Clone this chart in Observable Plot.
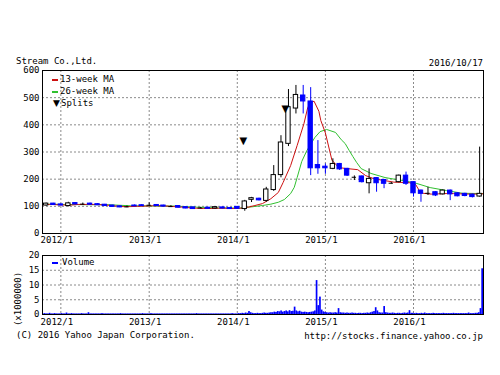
<!DOCTYPE html>
<html><head><meta charset="utf-8">
<script src="https://cdn.jsdelivr.net/npm/d3@7"></script>
<script src="https://cdn.jsdelivr.net/npm/@observablehq/plot@0.6"></script>
<style>
body{margin:0;background:#fff;}
#wrap{position:relative;width:500px;height:375px;overflow:hidden;font-family:"DejaVu Sans Mono",monospace;}
#wrap svg{position:absolute;left:0;}
.t{position:absolute;font-size:9px;line-height:10px;white-space:pre;color:#000;}
.dash{position:absolute;width:6px;height:2px;}
</style></head><body><div id="wrap"></div>
<script>
// ---------- data ----------
const company = "Stream Co.,Ltd.";
const asOf = "2016/10/17";
const xDomain = ["2011-10-17", "2016-10-17"];
const xTickDates = ["2012-01-01", "2013-01-01", "2014-01-01", "2015-01-01", "2016-01-01"];
const xTickLabels = ["2012/1", "2013/1", "2014/1", "2015/1", "2016/1"];
const priceTicks = [0, 100, 200, 300, 400, 500, 600];
const volumeTicks = [0, 5, 10, 15, 20];

const candleMonths = [
  "2011-11","2011-12",
  "2012-01","2012-02","2012-03","2012-04","2012-05","2012-06","2012-07","2012-08","2012-09","2012-10","2012-11","2012-12",
  "2013-01","2013-02","2013-03","2013-04","2013-05","2013-06","2013-07","2013-08","2013-09","2013-10","2013-11","2013-12",
  "2014-01","2014-02","2014-03","2014-04","2014-05","2014-06","2014-07","2014-08","2014-09","2014-10","2014-11","2014-12",
  "2015-01","2015-02","2015-03","2015-04","2015-05","2015-06","2015-07","2015-08","2015-09","2015-10","2015-11","2015-12",
  "2016-01","2016-02","2016-03","2016-04","2016-05","2016-06","2016-07","2016-08","2016-09","2016-10"
];
const opens = [103,110, 107,101,112,108,110,108,106,103,100,98,103,104, 104,105,103,99,101,97,96,94,95,92,96,94,
  98,90,124,128,120,160,215,330,460,508,486,252, 246,238,256,238,207,210,185,204,197,185,189,213,
  189,158,148,152,144,158,148,146,143,136];
const highs = [112,111, 109,115,113,112,112,110,107,104,101,101,105,106, 113,106,104,102,102,98,97,96,96,99,97,95,
  99,122,133,130,170,250,360,530,545,545,537,342, 256,275,258,240,212,212,238,206,199,188,215,226,
  190,160,170,154,160,160,150,148,145,318];
const lows = [100,104, 102,98,106,104,105,103,100,97,95,95,99,100, 100,100,98,96,94,91,89,91,90,90,91,89,
  89,82,114,120,115,155,205,320,440,440,213,218, 218,235,232,210,195,186,146,152,165,182,187,177,
  134,115,140,136,142,121,135,135,131,134];
const closes = [110,105, 103,111,107,108,106,104,101,98,96,98,100,101, 104,101,99,99,95,92,90,94,91,97,92,90,
  91,118,130,122,162,215,335,465,510,486,240,240, 240,256,236,213,207,189,201,185,183,185,213,183,
  148,146,148,140,158,144,137,138,134,146];

const ma13Dates = ["2011-10-17","2011-11-15","2011-12-15","2012-01-15","2012-02-15","2012-03-15","2012-04-15","2012-05-15",
  "2012-06-15","2012-07-15","2012-08-15","2012-09-15","2012-10-15","2012-11-15","2012-12-15","2013-01-15","2013-02-15",
  "2013-03-15","2013-04-15","2013-05-15","2013-06-15","2013-07-15","2013-08-15","2013-09-15","2013-10-15","2013-11-15",
  "2013-12-15","2014-01-15","2014-02-15","2014-03-15","2014-04-15","2014-05-20","2014-06-20","2014-07-10","2014-08-10",
  "2014-09-06","2014-10-04","2014-10-20","2014-11-01","2014-11-15","2014-12-05","2014-12-13","2015-01-01","2015-01-28",
  "2015-02-25","2015-03-20","2015-05-15","2015-06-17","2015-07-23","2015-09-02","2015-10-12","2015-12-15","2016-01-10",
  "2016-01-25","2016-02-10","2016-03-15","2016-04-15","2016-05-15","2016-06-15","2016-07-15","2016-08-15","2016-09-15","2016-10-17"];
const ma13Values = [106,107,106,105,105,107,107,107, 106,104,101,99,99,100,101,102,102, 101,99,97,95,93,92,92,93,93,
  92,93,97,103,110,128,151,188,250, 324,404,464,482,487,450,416,370,270, 243,240,235,213,201,195,189,187,180,
  158,148,145,146,147,147,146,145,145,146];

const ma26Dates = ["2011-10-17","2012-01-15","2012-04-15","2012-07-15","2012-10-15","2013-01-15","2013-04-15","2013-07-15",
  "2013-10-15","2014-01-15","2014-03-01","2014-04-15","2014-05-20","2014-06-20","2014-07-15","2014-08-10","2014-08-25",
  "2014-09-06","2014-09-25","2014-10-16","2014-11-18","2014-12-10","2015-01-06","2015-02-12","2015-03-08","2015-03-24",
  "2015-04-10","2015-04-25","2015-05-10","2015-05-29","2015-07-09","2015-09-05","2015-10-20","2015-11-20","2016-01-15",
  "2016-03-10","2016-05-17","2016-07-22","2016-10-17"];
const ma26Values = [108,107,106,106,102,101,101,97, 94,94,98,103,108,115,125,147,170, 206,265,305,353,375,383,372,345,331,
  305,283,262,239,221,206,199,195,184, 169,158,148,147];

const splitDates = ["2014-01-26", "2014-07-19"];
const splitLevels = [342, 460];

// weekly volume (x1,000,000), weeks starting 2011-10-17
const volumeStart = "2011-10-17";
const volume = [
  0.2,0.3,0.2,0.2,0.4,0.2,0.2,0.3,0.2,0.2,0.2,
  0.3,0.2,0.2,0.5,0.2,0.2,0.3,0.2,0.2,0.2, 0.2,0.2,0.3,0.2,0.2,0.2,0.6,0.2,0.2,0.2,
  0.2,0.2,0.2,0.2,0.3,0.2,0.2,0.2,0.2,0.2, 0.2,0.2,0.2,0.2,0.2,0.3,0.2,0.2,0.2,0.2,
  0.2,0.2,0.2,0.2,0.2,0.2,0.2,0.2,0.3,0.2, 0.2,0.2,0.2,
  0.3,0.2,0.2,0.2,0.2,0.2,0.2,0.2,0.2,0.2, 0.2,0.2,0.2,0.2,0.2,0.2,0.2,0.2,0.2,0.2,
  0.2,0.2,0.2,0.2,0.2,0.2,0.2,0.3,0.2,0.2, 0.2,0.2,0.2,0.2,0.2,0.2,0.2,0.2,0.2,0.2,
  0.2,0.2,0.2,0.2,0.2,0.2,0.2,0.2,0.3,0.2, 0.2,0.2,
  0.3,0.3,0.4,0.3,0.5,0.4,1.0,0.6,0.4,0.3, 0.3,0.4,0.3,0.3,0.4,0.5,0.4,0.4,0.5,0.6,
  0.6,0.8,0.7,1.0,0.9,1.2,0.8,1.0,1.2,0.9, 1.3,1.0,1.1,2.5,1.2,0.9,1.1,0.8,0.7,0.8,
  0.7,0.6,0.7,0.8,0.9,1.2,11.5,3.0,5.9,1.5, 0.9,0.7,
  0.6,0.5,0.6,0.5,0.5,0.6,0.5,2.0,0.6,0.5, 0.5,0.4,0.5,0.4,0.4,0.5,0.4,0.4,0.3,0.4,
  0.4,0.3,0.4,0.4,0.5,0.4,0.6,0.8,1.0,2.3, 1.2,0.6,0.5,0.5,2.7,0.6,0.5,0.4,0.4,0.5,
  0.4,0.3,0.4,0.4,0.3,0.4,0.5,0.4,0.5,1.3, 0.4,0.4,
  0.3,0.4,0.3,0.3,0.4,0.3,0.5,0.3,0.3,0.3, 0.3,0.4,0.3,0.3,0.3,0.3,0.3,0.4,0.3,0.3,
  0.3,0.3,0.3,0.4,0.3,0.3,0.3,0.3,0.3,0.3, 0.3,0.3,0.5,0.3,0.3,0.3,0.4,0.4,0.6,2.0,
  15.5
];

const legendItems = ["13-week MA", "26-week MA", "Splits"];
const volumeLegend = "Volume";
const volumeUnit = "(x1000000)";
const copyright = "(C) 2016 Yahoo Japan Corporation.";
const sourceUrl = "http://stocks.finance.yahoo.co.jp";

// ---------- build ----------
const RED = "#cc1010", GREEN = "#30c030", BLUE = "#0000ff";
const parse = s => new Date(s + (s.length === 7 ? "-01" : ""));
const dom = xDomain.map(parse);
const tickDates = xTickDates.map(parse);
const fmtX = d => xTickLabels[tickDates.findIndex(t => +t === +d)];

const candles = candleMonths.map((m, i) => ({date: parse(m), o: opens[i], h: highs[i], l: lows[i], c: closes[i]}));
const up = candles.filter(d => d.c > d.o), down = candles.filter(d => d.c < d.o), doji = candles.filter(d => d.c === d.o);
const bx1 = d => d3.utcDay.offset(d.date, -9), bx2 = d => d3.utcDay.offset(d.date, 9);
const ma13 = ma13Dates.map((s, i) => ({date: parse(s), v: ma13Values[i]}));
const ma26 = ma26Dates.map((s, i) => ({date: parse(s), v: ma26Values[i]}));
const splits = splitDates.map((s, i) => ({date: parse(s), v: splitLevels[i]}));
const vol0 = parse(volumeStart);
const vols = volume.map((v, k) => ({d1: d3.utcDay.offset(vol0, 7 * k), d2: d3.utcDay.offset(vol0, 7 * k + 7), v}));

const font = {background: "transparent", fontFamily: "DejaVu Sans Mono", fontSize: "9px", overflow: "visible", color: "#000"};
const grid = {stroke: "#8a8a8a", strokeOpacity: 1, strokeDasharray: "2,2"};

const price = Plot.plot({
  width: 500, height: 190, marginTop: 10, marginBottom: 17, marginLeft: 42, marginRight: 17,
  style: font,
  x: {type: "utc", domain: dom, label: null},
  y: {domain: [0, 600], label: null},
  marks: [
    Plot.gridX(tickDates, grid),
    Plot.gridY(priceTicks.slice(1, -1), grid),
    Plot.axisX(tickDates, {tickSize: 0, tickPadding: 3, tickFormat: fmtX, dx: -4, label: null}),
    Plot.axisY(priceTicks, {tickSize: 0, tickPadding: 3, label: null}),
    Plot.line(ma26, {x: "date", y: "v", stroke: GREEN, strokeWidth: 1}),
    Plot.line(ma13, {x: "date", y: "v", stroke: RED, strokeWidth: 1}),
    Plot.ruleX(up.concat(doji), {x: "date", y1: "l", y2: "h", stroke: "black"}),
    Plot.ruleX(down, {x: "date", y1: "l", y2: "h", stroke: BLUE}),
    Plot.rect(up, {x1: bx1, x2: bx2, y1: "o", y2: "c", fill: "white", stroke: "black"}),
    Plot.rect(down, {x1: bx1, x2: bx2, y1: "o", y2: "c", fill: BLUE, stroke: BLUE}),
    Plot.ruleY(doji, {y: "c", x1: bx1, x2: bx2, stroke: "black"}),
    Plot.text(splits, {x: "date", y: "v", text: () => "▼", fontSize: 10, fill: "black", fontFamily: "DejaVu Sans"}),
    Plot.frame({stroke: "black"})
  ]
});
price.style.top = "60px";

const vplot = Plot.plot({
  width: 500, height: 80, marginTop: 5, marginBottom: 16, marginLeft: 42, marginRight: 17,
  style: font,
  x: {type: "utc", domain: dom, label: null},
  y: {domain: [0, 20], label: null},
  marks: [
    Plot.gridX(tickDates, grid),
    Plot.gridY(volumeTicks.slice(1, -1), grid),
    Plot.axisX(tickDates, {tickSize: 0, tickPadding: 4, tickFormat: fmtX, dx: -4, label: null}),
    Plot.axisY(volumeTicks, {tickSize: 0, tickPadding: 3, label: null}),
    Plot.rect(vols, {x1: "d1", x2: "d2", y1: 0, y2: "v", fill: BLUE, inset: 0}),
    Plot.frame({stroke: "black"})
  ]
});
vplot.style.top = "250px";

const wrap = document.getElementById("wrap");
wrap.appendChild(price);
wrap.appendChild(vplot);

function txt(s, x, y, opts = {}) {
  const el = document.createElement("div");
  el.className = "t";
  el.textContent = s;
  el.style.top = (y - 5) + "px";
  if (opts.right != null) el.style.right = opts.right + "px"; else el.style.left = x + "px";
  if (opts.font) el.style.fontFamily = opts.font;
  wrap.appendChild(el);
  return el;
}
function dash(color, x, y) {
  const el = document.createElement("div");
  el.className = "dash";
  el.style.left = x + "px"; el.style.top = y + "px"; el.style.background = color;
  wrap.appendChild(el);
}
txt(company, 16, 61);
txt(asOf, 0, 63, {right: 17});
dash(RED, 52, 79); txt(legendItems[0], 60, 79);
dash(GREEN, 52, 91); txt(legendItems[1], 60, 91);
txt("▼", 53, 103, {font: "DejaVu Sans"}); txt(legendItems[2], 61, 103);
dash(BLUE, 52, 262); txt(volumeLegend, 62, 262);
txt(copyright, 16, 335);
txt(sourceUrl, 0, 336, {right: 17});
const u = txt(volumeUnit, 0, 0);
u.style.left = "18px"; u.style.top = "299px";
u.style.transform = "translate(-50%,-50%) rotate(-90deg)";
</script>
</body></html>
